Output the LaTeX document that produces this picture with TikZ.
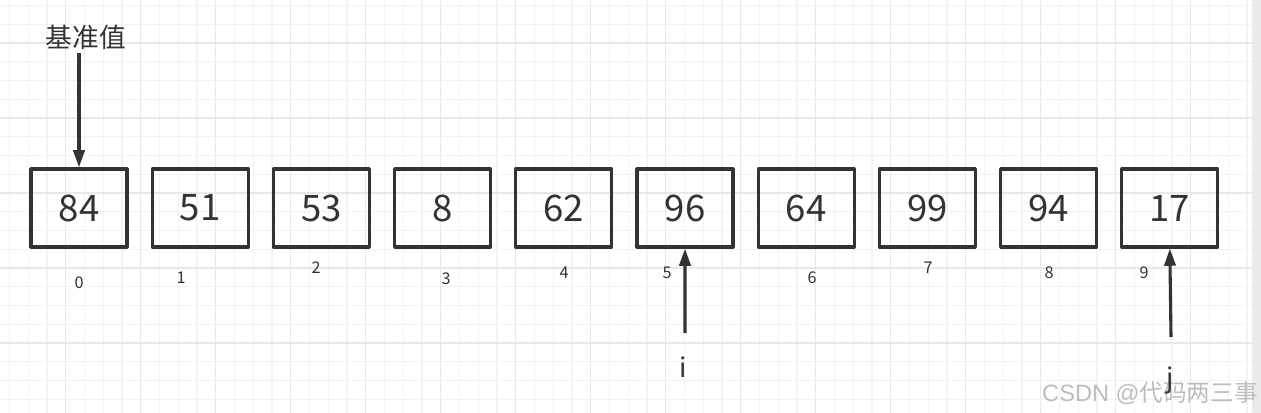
\documentclass[tikz,border=0pt]{standalone}
\usepackage{fontspec}
\setmainfont{Noto Sans CJK SC}
\newfontfamily\wmfont{Liberation Sans}
\usetikzlibrary{arrows.meta}
\definecolor{ink}{HTML}{333333}
\definecolor{gridminor}{HTML}{F3F3F3}
\definecolor{gridmajor}{HTML}{E8E8E8}
\definecolor{wmgray}{HTML}{BDBDBD}
\begin{document}
\begin{tikzpicture}[x=0.025cm,y=-0.025cm,line join=round,>={Triangle[length=4.3mm,width=2.8mm]},
		cell/.style={draw=ink,line width=2.2pt,minimum width=2.4cm,minimum height=1.95cm,inner sep=0pt,text=ink,font=\fontsize{26}{30}\selectfont},
		idx/.style={text=ink,inner sep=0pt,font=\fontsize{11.5}{13}\selectfont},
		lbl/.style={text=ink,inner sep=0pt,font=\fontsize{19}{22}\selectfont},
		ptr/.style={->,draw=ink,line width=2.2pt}]
	\useasboundingbox (0,0) rectangle (1261,413);
	% grid paper
	\fill[white] (0,0) rectangle (1252,413);
	\fill[gridminor!80!gray!60] (1252,0) rectangle (1261,413);
	\foreach \k in {0,...,67} \draw[gridminor,line width=.9pt] ({-9.3+18.75*\k},0)--({-9.3+18.75*\k},413);
	\foreach \k in {0,...,21} \draw[gridminor,line width=.9pt] (0,{5.5+18.75*\k})--(1252,{5.5+18.75*\k});
	\foreach \k in {0,...,16} \draw[gridmajor,line width=.9pt] ({-9.3+75*\k},0)--({-9.3+75*\k},413);
	\foreach \k in {0,...,4} \draw[gridmajor,line width=.9pt] (0,{43+75*\k})--(1252,{43+75*\k});
	% array
	\foreach \v [count=\k from 0] in {84,51,53,8,62,96,64,99,94,17}
		\node[cell] (c\k) at ({79+121.2*\k},208) {\v};
	\foreach \x/\y [count=\k from 0] in {79/283,181/278,316/268,446/279,564/273,667/273,812/278,928/268,1049/273,1144/273}
		\node[idx] (n\k) at (\x,\y) {\k};
	% pointers
	\node[lbl] (pivot) at (86,37) {基准值};
	\coordinate (pv) at (79,53);
	\draw[ptr] (pv)--(c0.north);
	\node[text=wmgray,inner sep=0pt,font=\fontsize{16.8}{19}\selectfont] (mark) at (1150,393) {{\wmfont CSDN @}代码两三事};
	\node[lbl] (i) at (683,367) {i};
	\coordinate (pi) at (685,333);
	\draw[ptr] (pi)--(c5.south);
	\node[lbl] (j) at (1170,380) {j};
	\coordinate (pj) at (1171,337);
	\draw[ptr] (pj)--(c9.south);
\end{tikzpicture}
\end{document}
